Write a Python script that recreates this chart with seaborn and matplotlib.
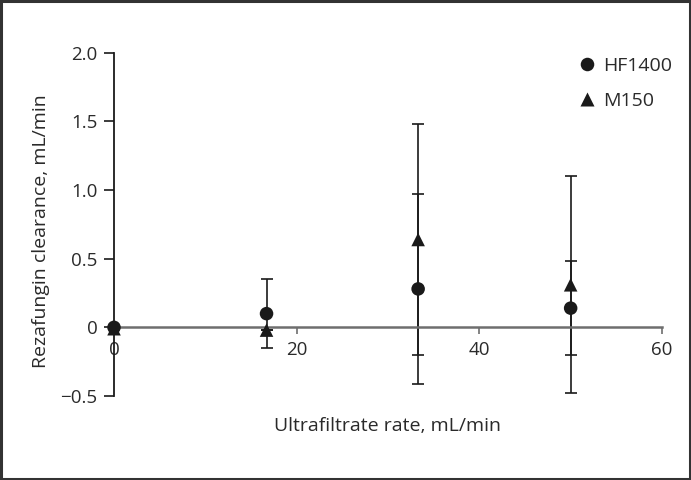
import numpy as np
import pandas as pd
import matplotlib
matplotlib.use("Agg")
import matplotlib.pyplot as plt
from matplotlib.patches import Rectangle
import seaborn as sns

# ultrafiltrate rate, mL/min
uf_rate = [0, 16.7, 33.3, 50]

# rezafungin clearance, mL/min (mean and SD)
hf1400_mean = [0.0, 0.10, 0.28, 0.14]
hf1400_sd = [0.0, 0.25, 0.69, 0.34]
m150_mean = [-0.01, -0.02, 0.64, 0.31]
m150_sd = [0.0, 0.0, 0.84, 0.79]

df = pd.DataFrame({
    "uf": uf_rate * 2,
    "clearance": hf1400_mean + m150_mean,
    "sd": hf1400_sd + m150_sd,
    "filter": ["HF1400"] * 4 + ["M150"] * 4,
})

sns.set_theme(style="ticks")
plt.rcParams["font.family"] = ["Open Sans", "DejaVu Sans"]

fig = plt.figure(figsize=(6.91, 4.80), dpi=100)
ax = fig.add_axes([0.165, 0.175, 0.793, 0.715])

# error bars first, markers on top
for name, grp in df.groupby("filter"):
    ax.errorbar(grp["uf"], grp["clearance"], yerr=grp["sd"], fmt="none",
                ecolor="#1a1a1a", elinewidth=1.2, capsize=4, capthick=1.2,
                zorder=2, clip_on=False)

sns.scatterplot(data=df, x="uf", y="clearance", style="filter",
                markers={"HF1400": "o", "M150": "^"}, color="#1a1a1a",
                s=95, edgecolor="none", ax=ax, zorder=3, clip_on=False)

ax.set_xlim(0, 60)
ax.set_ylim(-0.5, 2.0)
ax.set_xticks([0, 20, 40, 60])
ax.set_xticklabels(["0", "20", "40", "60"])
ax.set_yticks([-0.5, 0, 0.5, 1.0, 1.5, 2.0])
ax.set_yticklabels(["\u22120.5", "0", "0.5", "1.0", "1.5", "2.0"])

sns.despine(ax=ax)
ax.spines["bottom"].set_position(("data", 0))
ax.spines["bottom"].set_color("#6e6e6e")
ax.spines["bottom"].set_linewidth(1.8)
ax.spines["left"].set_color("#1a1a1a")
ax.spines["left"].set_linewidth(1.3)
ax.tick_params(axis="x", direction="out", length=5, width=1.2, color="#6e6e6e",
               labelsize=13.5, labelcolor="#2a2a2a", pad=5)
ax.tick_params(axis="y", direction="out", length=7, width=1.2, color="#1a1a1a",
               labelsize=13.5, labelcolor="#2a2a2a", pad=5)

ax.set_xlabel("Ultrafiltrate rate, mL/min", fontsize=14, color="#2a2a2a")
ax.xaxis.set_label_coords(0.5, -0.06)
ax.set_ylabel("Rezafungin clearance, mL/min", fontsize=14, color="#2a2a2a")
ax.yaxis.set_label_coords(-0.117, 0.48)

leg = ax.legend(loc="upper right", bbox_to_anchor=(1.05, 1.04), frameon=False,
                fontsize=14, handletextpad=0.2, labelspacing=0.9,
                handlelength=1.2, title=None)
for t in leg.get_texts():
    t.set_color("#2a2a2a")

fig.add_artist(Rectangle((0.0015, 0.002), 0.997, 0.996, transform=fig.transFigure,
                         fill=False, edgecolor="#333333", linewidth=2.2))

fig.savefig("out.png", dpi=100)
